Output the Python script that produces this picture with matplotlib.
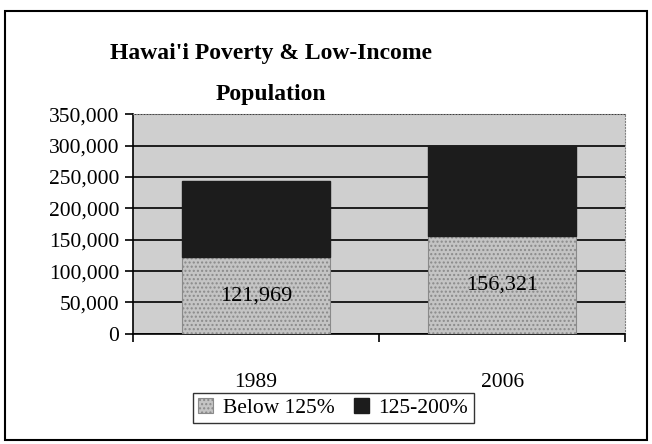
import matplotlib.pyplot as plt
from matplotlib.patches import Rectangle
from matplotlib.ticker import FuncFormatter

# data
years = ['1989', '2006']
below_125 = [121969, 156321]
from_125_to_200 = [121000, 143000]

plt.rcParams['font.family'] = ['Liberation Serif', 'DejaVu Serif']
plt.rcParams['hatch.color'] = '#a8a8a8'

fig = plt.figure(figsize=(6.52, 4.44), dpi=100)
ax = fig.add_axes([0.204, 0.248, 0.755, 0.495])
ax.set_facecolor('#cfcfcf')

x = [0.5, 1.5]
ax.bar(x, below_125, width=0.6, color='#c4c4c4', edgecolor='#8a8a8a', linewidth=0.8,
       hatch='....', label='Below 125%', zorder=3)
ax.bar(x, from_125_to_200, width=0.6, bottom=below_125, color='#1c1c1c',
       edgecolor='#1c1c1c', label='125-200%', zorder=3)

for xi, v in zip(x, below_125):
    ax.text(xi, v / 2, f'{v:,}', ha='center', va='center', fontsize=16, zorder=4)

ax.set_xlim(0, 2)
ax.set_ylim(0, 350000)
ax.set_yticks(range(0, 350001, 50000))
ax.yaxis.set_major_formatter(FuncFormatter(lambda v, p: f'{int(v):,}'))
ax.grid(axis='y', color='black', linewidth=1.2, zorder=1)

ax.set_xticks([0, 1, 2])
ax.set_xticklabels([])
ax.set_xticks(x, minor=True)
ax.set_xticklabels(years, minor=True)
ax.tick_params(axis='x', which='minor', length=0, pad=28, labelsize=15.5)
ax.tick_params(axis='x', which='major', length=6, width=1.2, direction='out')
ax.tick_params(axis='y', length=6, width=1.2, direction='out', labelsize=15.5, pad=4)
ax.spines['top'].set_color('#808080')
ax.spines['top'].set_linestyle(':')
ax.spines['right'].set_color('#808080')
ax.spines['right'].set_linestyle(':')
ax.spines['left'].set_linewidth(1.2)
ax.spines['bottom'].set_linewidth(1.2)

fig.text(0.416, 0.88, "Hawai'i Poverty & Low-Income", ha='center', va='center',
         fontsize=17, fontweight='bold')
fig.text(0.416, 0.787, 'Population', ha='center', va='center',
         fontsize=17, fontweight='bold')

leg = fig.legend(loc='center', bbox_to_anchor=(0.511, 0.081), ncol=2, fontsize=15.5,
                 frameon=True, fancybox=False, edgecolor='black', handlelength=0.7,
                 handleheight=0.7, handletextpad=0.45, columnspacing=0.9,
                 borderpad=0.25, borderaxespad=0.0)
leg.get_frame().set_linewidth(1.0)

fig.patches.append(Rectangle((0.008, 0.01), 0.985, 0.965, transform=fig.transFigure,
                             fill=False, edgecolor='black', linewidth=1.5))

fig.savefig('out.png', dpi=100)
